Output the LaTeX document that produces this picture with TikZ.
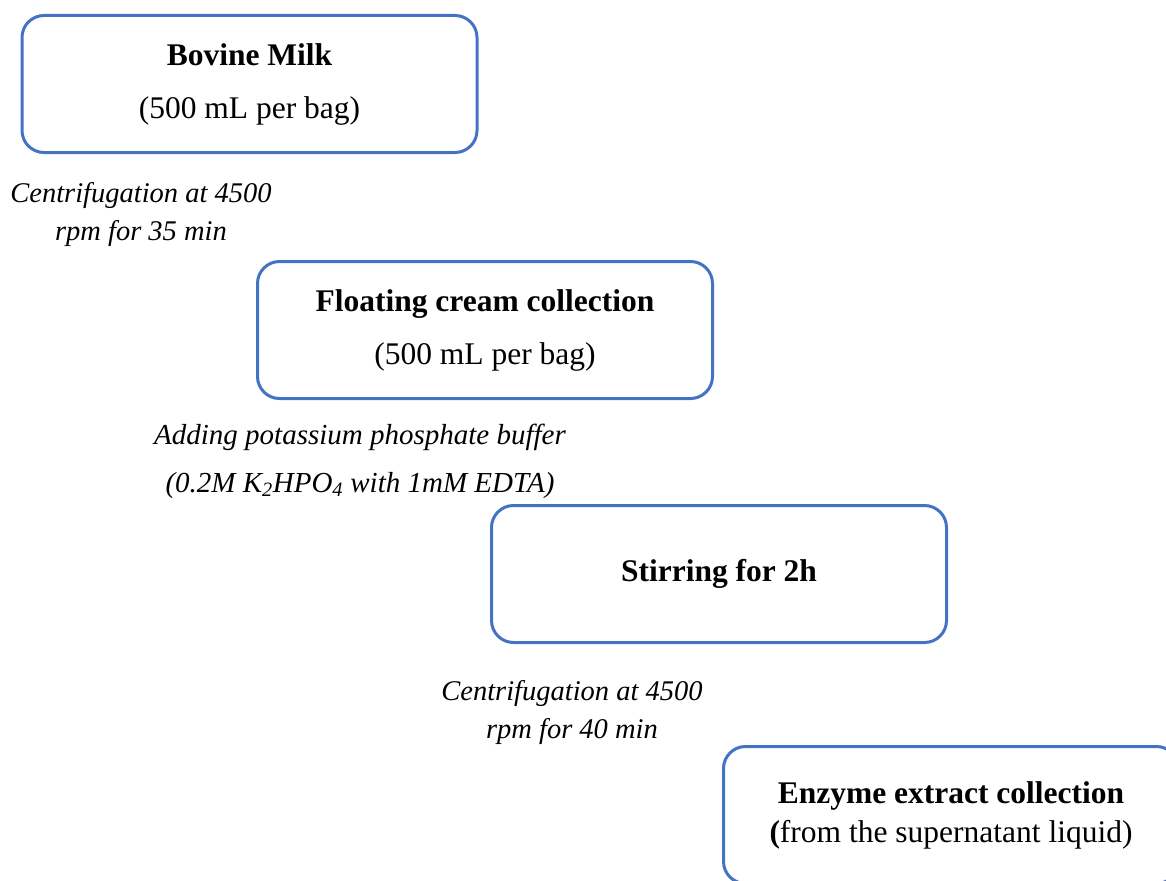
\documentclass[tikz,border=0pt]{standalone}
\usepackage{fontspec}
\setmainfont{Liberation Serif}
\usetikzlibrary{positioning}

\definecolor{boxblue}{HTML}{4472C4}

\tikzset{
  stepbox/.style={draw=boxblue, line width=3pt, rounded corners=22pt,
                  minimum width=455pt, minimum height=137pt, align=center,
                  inner sep=0pt, font=\fontsize{31.5}{53}\selectfont},
  note/.style={align=center, inner sep=0pt,
               font=\fontsize{28.5}{38}\selectfont\itshape},
}

\begin{document}
\begin{tikzpicture}[x=1pt, y=-1pt]
\useasboundingbox (0,0) rectangle (1166,880);
\clip (0,0) rectangle (1166,880);
% process steps
\node[stepbox] (milk) at (249.5,84) {\textbf{Bovine Milk}\\(500 mL per bag)};
\node[stepbox] (cream) at (485,330) {\textbf{Floating cream collection}\\(500 mL per bag)};
\node[stepbox] (stir) at (719,574) {\textbf{Stirring for 2h}};
\node[stepbox, font=\fontsize{31.5}{39}\selectfont] (extract) at (951,815)
     {\textbf{Enzyme extract collection}\\\textbf{(}from the supernatant liquid)};
% treatments between steps
\node[note] (spin1) at (141,214) {Centrifugation at 4500\\rpm for 35 min};
\node[note, font=\fontsize{29}{48}\selectfont\itshape] (buffer) at (360,461)
     {Adding potassium phosphate buffer\\(0.2M K\textsubscript{2}HPO\textsubscript{4} with 1mM EDTA)};
\node[note] (spin2) at (572,712) {Centrifugation at 4500\\rpm for 40 min};
\end{tikzpicture}
\end{document}
